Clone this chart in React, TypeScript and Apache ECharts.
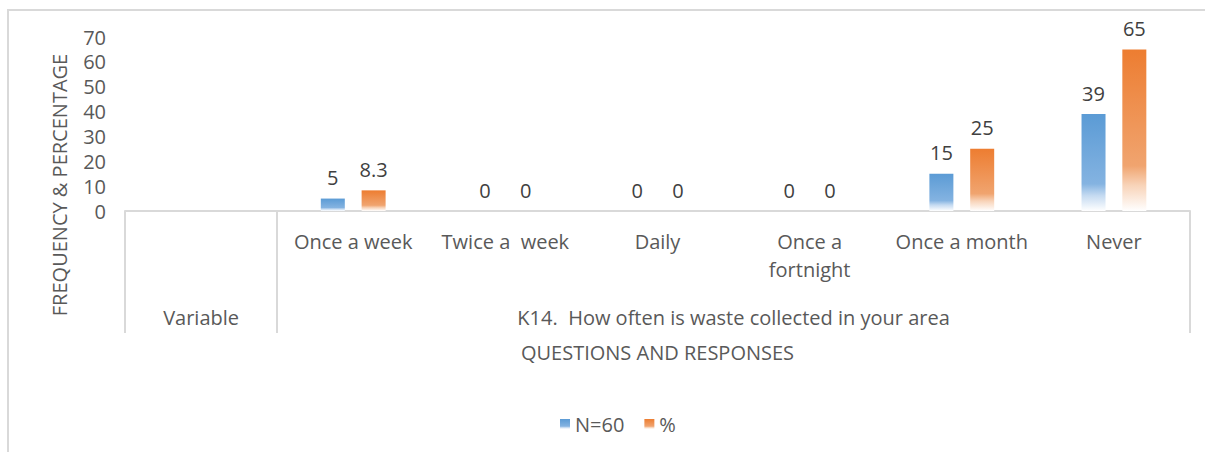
import React, { useEffect, useRef } from "react";
import * as echarts from "echarts";

const categories = ["", "Once a week", "Twice a  week", "Daily", "Once a\nfortnight", "Once a month", "Never"];
const groupLabels = ["Variable", "K14.  How often is waste collected in your area"];
const groupCenters = [0.5, 4]; // in category units along the axis
const groupBoundaries = [0, 1, 7];
const seriesNames = ["N=60", "%"];
const frequency = [null, 5, 0, 0, 0, 15, 39];
const percentage = [null, 8.3, 0, 0, 0, 25, 65];
const yTicks = [0, 10, 20, 30, 40, 50, 60, 70];

const FONT = "Open Sans";
const FS = 20;

function grad(top: string, mid: string, light: string) {
  return new echarts.graphic.LinearGradient(0, 0, 0, 1, [
    { offset: 0, color: top },
    { offset: 0.72, color: mid },
    { offset: 0.84, color: light },
    { offset: 1, color: "#ffffff" },
  ]);
}

export default function App() {
  const ref = useRef<HTMLDivElement>(null);
  useEffect(() => {
    if (!ref.current) return;
    const chart = echarts.init(ref.current, null, { renderer: "svg" });
    const blue = grad("#5b9bd5", "#84b3e1", "#c4daf1");
    const orange = grad("#ed7d31", "#f0a46f", "#f8d3b8");
    const labelStyle = {
      show: true,
      position: "top",
      distance: 11,
      color: "#404040",
      fontSize: FS,
      fontFamily: FONT,
    };
    chart.setOption({
      animation: false,
      textStyle: { fontFamily: FONT },
      grid: { left: 125, right: 15, top: 37, bottom: 241, containLabel: false, outerBoundsMode: "none" },
      legend: {
        data: seriesNames,
        left: 555,
        top: 409,
        icon: "rect",
        itemWidth: 10,
        itemHeight: 10,
        itemGap: 20,
        textStyle: { color: "#595959", fontSize: FS, fontFamily: FONT },
      },
      xAxis: [
        {
          type: "category",
          data: categories,
          position: "bottom",
          axisLine: { show: true, lineStyle: { color: "#d9d9d9", width: 2 } },
          axisTick: { show: false },
          axisLabel: {
            interval: 0,
            color: "#595959",
            fontSize: FS,
            lineHeight: 28,
            margin: 16,
            fontFamily: FONT,
          },
          name: "QUESTIONS AND RESPONSES",
          nameLocation: "middle",
          nameGap: 131,
          nameTextStyle: { color: "#595959", fontSize: FS, fontFamily: FONT },
        },
        {
          type: "value",
          min: 0,
          max: categories.length,
          position: "bottom",
          axisLine: { show: false },
          splitLine: { show: false },
          axisTick: {
            show: true,
            customValues: groupBoundaries,
            length: 122,
            lineStyle: { color: "#d9d9d9", width: 2 },
          },
          axisLabel: {
            customValues: groupCenters,
            formatter: (v: number) => {
              const i = groupCenters.indexOf(v);
              return i >= 0 ? groupLabels[i] : "";
            },
            color: "#595959",
            fontSize: FS,
            lineHeight: 28,
            margin: 92,
            fontFamily: FONT,
          },
        },
      ],
      yAxis: {
        type: "value",
        min: 0,
        max: 70,
        interval: 10,
        axisLine: { show: false },
        axisTick: { show: false },
        splitLine: { show: false },
        axisLabel: {
          color: "#595959",
          fontSize: FS,
          margin: 19,
          fontFamily: FONT,
          formatter: (v: number) => (yTicks.includes(v) ? String(v) : ""),
        },
      },
      graphic: [
        {
          type: "rect",
          shape: { x: 8, y: 10, width: 1220, height: 470 },
          style: { fill: "none", stroke: "#d9d9d9", lineWidth: 2 },
          silent: true,
        },
        {
          type: "text",
          x: 59,
          y: 185,
          rotation: Math.PI / 2,
          style: {
            text: "FREQUENCY & PERCENTAGE",
            fill: "#595959",
            fontSize: FS,
            fontFamily: FONT,
            textAlign: "center",
            textVerticalAlign: "middle",
          },
        },
      ],
      series: [
        {
          name: seriesNames[0],
          type: "bar",
          xAxisIndex: 0,
          data: frequency,
          barWidth: 24,
          barGap: "70%",
          itemStyle: { color: blue },
          label: labelStyle,
        },
        {
          name: seriesNames[1],
          type: "bar",
          xAxisIndex: 0,
          data: percentage,
          barWidth: 24,
          barGap: "70%",
          itemStyle: { color: orange },
          label: labelStyle,
        },
      ],
    });
    return () => chart.dispose();
  }, []);
  return <div ref={ref} style={{ position: "fixed", left: 0, top: 0, width: 1205, height: 452, background: "#fff" }} />;
}
